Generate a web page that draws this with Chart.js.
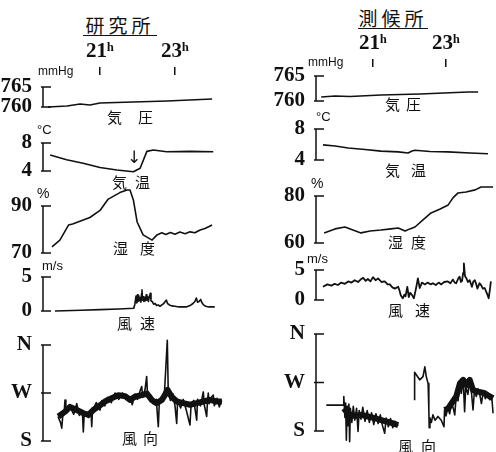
<!DOCTYPE html>
<html><head><meta charset="utf-8">
<script src="https://cdn.jsdelivr.net/npm/chart.js@4/dist/chart.umd.min.js"></script>
<style>
body{margin:0;background:#fff;}
#wrap{position:relative;width:496px;height:452px;overflow:hidden;background:#fff;}
#wrap canvas{position:absolute;}
.t{position:absolute;color:#111;line-height:1;white-space:nowrap;}
.cjk{font-family:"Noto Sans CJK JP";}
.unit{font-family:"Liberation Sans";font-size:12px;}
.ttl{font-family:"Noto Sans CJK JP";font-size:19px;border-bottom:1.5px solid #111;text-align:center;padding-bottom:1px;letter-spacing:4px;}
</style></head>
<body><div id="wrap"></div>
<script>
// ---------- DATA ----------
const hourTicks = [21, 23];
const pressureTicks = [760, 765];
const dirTicks = [180, 270, 360];
const dirNames = {180: 'S', 270: 'W', 360: 'N'};
const kenTempTicks = [4, 8];
const kenHumidTicks = [70, 90];
const sokTempTicks = [4, 8];
const sokHumidTicks = [60, 80];
const speedTicks = [0, 5];

// 研究所 (hours, value)
const kenPressure = [[19.61,760.0],[20.12,760.25],[20.47,760.75],[20.73,760.5],[21.0,761.0],[21.88,761.25],[22.79,761.5],[23.99,762.0]];
const kenTemp = [[19.67,6.3],[20.11,5.6],[20.55,5.1],[21.0,4.5],[21.45,4.15],[21.89,3.9],[22.07,4.4],[22.25,6.8],[22.42,7.0],[22.78,6.75],[23.4,6.8],[24.02,6.75]];
const kenHumid = [[19.72,72.6],[19.93,75.5],[20.16,81.9],[20.27,82.3],[20.73,85.1],[21.0,88.1],[21.21,92.8],[21.4,94.5],[21.53,95.7],[21.72,96.8],[21.8,96.8],[21.89,92.6],[21.99,83.2],[22.15,77.7],[22.39,75.5],[22.52,77.7],[22.65,78.6],[22.75,77.9],[22.88,78.7],[23.0,78.0],[23.13,78.9],[23.27,78.2],[23.4,79.0],[23.53,78.6],[23.67,79.8],[23.8,80.4],[23.99,81.9]];
const kenSpeed = [[19.8,0],[20.5,0.1],[21.0,0.2],[21.5,0.3],[21.9,0.4],[21.93,1.0],[21.96,2.2],[21.98,1.2],[22.0,2.4],[22.013,1.4],[22.03,2.3],[22.05,1.5],[22.07,2.0],[22.09,1.3],[22.11,2.6],[22.12,3.1],[22.135,1.6],[22.15,2.1],[22.17,1.4],[22.19,2.0],[22.21,1.5],[22.235,2.4],[22.25,1.6],[22.27,2.1],[22.29,1.4],[22.31,2.0],[22.342,2.6],[22.36,1.5],[22.39,1.4],[22.43,1.0],[22.47,1.1],[22.51,0.8],[22.55,0.9],[22.6,0.7],[22.65,0.9],[22.7,1.1],[22.74,1.4],[22.77,1.6],[22.8,1.1],[22.85,0.9],[22.92,0.75],[23.0,0.7],[23.1,0.6],[23.2,0.6],[23.3,0.6],[23.4,0.8],[23.48,1.1],[23.53,1.4],[23.57,1.9],[23.6,1.3],[23.64,1.4],[23.685,1.7],[23.72,1.2],[23.76,0.9],[23.82,0.7],[23.9,0.6],[24.06,0.6]];
const kenDirBand = [[19.89,226],[20.07,235],[20.2,244],[20.38,238],[20.56,232],[20.69,229],[20.82,238],[21.0,247],[21.13,254],[21.31,260],[21.49,266],[21.67,264],[21.8,257],[21.93,263],[22.11,266],[22.25,269],[22.38,257],[22.51,251],[22.65,257],[22.73,266],[22.8,276],[22.91,263],[23.05,254],[23.22,251],[23.4,248],[23.58,251],[23.76,254],[23.93,257],[24.11,254],[24.25,254]];
const kenDirTrace = [[19.88,226],[19.95,214],[19.98,204],[20.01,230],[20.05,240],[20.067,257],[20.09,236],[20.2,244],[20.3,230],[20.38,250],[20.45,228],[20.53,236],[20.555,197],[20.58,232],[20.7,224],[20.76,238],[20.779,207],[20.8,236],[20.9,252],[21.0,238],[21.05,256],[21.13,246],[21.2,262],[21.3,252],[21.4,270],[21.5,258],[21.6,270],[21.7,258],[21.8,262],[21.86,248],[21.93,268],[22.0,258],[22.08,276],[22.112,282],[22.14,262],[22.2,276],[22.245,301],[22.27,262],[22.35,266],[22.42,250],[22.5,258],[22.555,207],[22.58,250],[22.65,262],[22.72,272],[22.795,369],[22.82,272],[22.88,256],[22.95,268],[23.0,246],[23.045,213],[23.07,256],[23.15,242],[23.22,258],[23.3,238],[23.4,210],[23.43,250],[23.5,256],[23.579,219],[23.6,258],[23.68,246],[23.755,272],[23.78,248],[23.845,226],[23.87,258],[23.888,270],[23.91,250],[23.97,262],[24.021,266],[24.05,246],[24.12,260],[24.18,244],[24.245,256]];

// 測候所 (hours, value)
const sokPressure = [[19.58,760.8],[19.96,761.0],[20.37,760.9],[21.22,761.2],[22.29,761.4],[23.6,761.8],[23.88,761.8]];
const sokTemp = [[19.63,5.95],[19.96,5.8],[20.32,5.55],[20.78,5.35],[21.22,5.15],[21.69,5.05],[21.96,4.9],[22.07,5.15],[22.15,5.25],[22.56,5.1],[23.05,5.05],[23.66,4.9],[24.15,4.8]];
const sokHumid = [[19.66,64.3],[19.96,66.0],[20.23,66.8],[20.45,65.5],[20.67,64.3],[20.92,65.1],[21.22,65.5],[21.49,66.0],[21.69,66.4],[21.88,65.1],[22.01,66.0],[22.15,66.8],[22.37,69.8],[22.59,72.8],[22.84,74.5],[23.06,76.2],[23.19,79.2],[23.33,81.3],[23.55,81.7],[23.8,82.6],[23.96,83.8],[24.29,83.8]];
const sokSpeed = [[19.63,2.2],[19.75,2.6],[19.86,2.4],[19.95,2.7],[20.04,2.5],[20.13,2.9],[20.23,2.7],[20.32,3.1],[20.41,2.9],[20.5,3.3],[20.59,3.0],[20.66,3.4],[20.73,3.7],[20.8,3.2],[20.86,3.5],[20.93,3.1],[21.0,3.8],[21.07,3.3],[21.14,3.6],[21.23,3.0],[21.32,3.1],[21.4,2.6],[21.46,2.6],[21.53,2.1],[21.6,1.9],[21.69,2.2],[21.73,1.5],[21.76,0.8],[21.8,0.4],[21.82,0.3],[21.86,0.9],[21.89,0.6],[21.94,2.2],[21.98,0.5],[22.02,1.2],[22.05,1.0],[22.09,0.6],[22.12,0.3],[22.16,1.4],[22.19,2.3],[22.23,3.6],[22.28,2.0],[22.34,2.9],[22.42,2.6],[22.5,2.9],[22.58,2.6],[22.64,2.8],[22.72,2.5],[22.8,2.9],[22.87,2.6],[22.95,3.0],[23.05,3.1],[23.12,2.8],[23.19,3.4],[23.24,2.9],[23.28,2.8],[23.33,3.5],[23.37,3.9],[23.41,3.0],[23.44,3.2],[23.47,4.5],[23.49,6.1],[23.52,4.0],[23.56,3.6],[23.6,3.0],[23.65,3.3],[23.71,2.2],[23.75,3.1],[23.79,3.3],[23.83,2.6],[23.86,1.9],[23.92,2.8],[23.97,2.4],[24.01,1.9],[24.06,2.0],[24.1,1.4],[24.14,0.8],[24.17,0.3],[24.2,1.6],[24.23,3.1]];
const sokDirBand = [[20.2,222],[20.32,212],[20.5,208],[20.68,210],[20.86,207],[21.05,204],[21.23,200],[21.41,197],[21.55,194],[21.69,191],[22.0,null],[22.96,219],[23.06,222],[23.15,231],[23.28,244],[23.38,268],[23.47,275],[23.56,265],[23.65,275],[23.74,256],[23.88,253],[24.06,250],[24.2,244],[24.29,241]];
const sokDirTrace = [[19.72,228],[20.18,228],[20.2,244],[20.23,205],[20.25,232],[20.27,163],[20.29,226],[20.31,190],[20.34,230],[20.36,160],[20.38,222],[20.42,196],[20.46,226],[20.5,200],[20.55,222],[20.59,179],[20.62,218],[20.67,202],[20.72,224],[20.78,198],[20.84,218],[20.9,196],[20.96,214],[21.02,192],[21.08,212],[21.14,194],[21.2,210],[21.26,190],[21.32,176],[21.36,204],[21.42,188],[21.48,203],[21.54,186],[21.6,198],[21.69,190],[22.0,null],[22.14,237],[22.14,289],[22.19,284],[22.28,275],[22.37,281],[22.42,299],[22.46,281],[22.51,268],[22.53,219],[22.54,186],[22.56,204],[22.6,196],[22.64,210],[22.7,200],[22.78,207],[22.87,200],[22.945,188],[22.96,219],[23.0,208],[23.05,224],[23.1,212],[23.15,232],[23.2,222],[23.24,210],[23.28,246],[23.33,236],[23.38,270],[23.42,250],[23.47,278],[23.51,216],[23.54,262],[23.6,248],[23.65,278],[23.7,250],[23.74,219],[23.78,256],[23.83,244],[23.88,258],[23.93,246],[23.97,231],[24.02,252],[24.08,240],[24.14,250],[24.2,238],[24.25,246],[24.29,213]];

// ---------- LAYOUT ----------
const wrap = document.getElementById('wrap');
const INK = '#111';
const tickFont = {family: 'Liberation Serif', weight: 'bold', size: 21};

const bracket = {
  id: 'bracket',
  afterDraw(chart) {
    const ys = chart.scales.y, ctx = chart.ctx;
    const p = ys.ticks.map(t => ys.getPixelForValue(t.value));
    const x = chart.chartArea.left;
    ctx.save();
    ctx.strokeStyle = INK; ctx.lineWidth = 1.5;
    ctx.beginPath();
    ctx.moveTo(x, Math.min(...p)); ctx.lineTo(x, Math.max(...p));
    p.forEach(py => { ctx.moveTo(x - 2, py); ctx.lineTo(x + 8, py); });
    ctx.stroke();
    ctx.restore();
  }
};

function toXY(arr) { return arr.map(([x, y]) => ({x, y})); }
function line(arr, w) {
  return {data: toXY(arr), borderColor: INK, borderWidth: w, pointRadius: 0, tension: 0,
          fill: false, spanGaps: false, borderJoinStyle: 'round', borderCapStyle: 'butt'};
}

function panel(p) {
  const c = document.createElement('canvas');
  c.width = p.w; c.height = p.h;
  c.style.left = p.left + 'px'; c.style.top = p.top + 'px';
  wrap.appendChild(c);
  const axisH = p.top_axis ? 35 : 0;
  new Chart(c, {
    type: 'line',
    data: {datasets: p.datasets},
    plugins: [bracket],
    options: {
      responsive: false, animation: false, devicePixelRatio: 1,
      layout: {padding: 0},
      plugins: {legend: {display: false}, tooltip: {enabled: false}},
      scales: {
        x: {
          type: 'linear', min: p.xMin, max: p.xMax, display: !!p.top_axis, position: 'top',
          afterBuildTicks: s => { s.ticks = hourTicks.map(v => ({value: v})); },
          afterFit: s => { s.height = axisH; s.paddingLeft = 0; s.paddingRight = 0; s.paddingTop = 0; s.paddingBottom = 0; },
          ticks: {callback: v => v + 'ʰ', font: tickFont, color: INK, padding: 3, maxRotation: 0, autoSkip: false},
          grid: {display: true, drawOnChartArea: false, drawTicks: true, tickLength: 8, color: INK, lineWidth: 1.5},
          border: {display: false}
        },
        y: {
          type: 'linear', min: p.yMin, max: p.yMax,
          afterBuildTicks: s => { s.ticks = p.yTicks.map(v => ({value: v})); },
          afterFit: s => { s.width = p.axisW; s.paddingTop = 0; s.paddingBottom = 0; },
          ticks: {callback: p.yLabel || (v => String(v)), font: tickFont, color: INK, padding: 3, autoSkip: false},
          grid: {display: false},
          border: {display: false}
        }
      }
    }
  });
}

const L = {left: 0, w: 248, axisW: 43, xMin: 19.48, xMax: 24.947};
const R = {left: 248, w: 248, axisW: 68, xMin: 19.438, xMax: 24.37};
const dirLabel = v => dirNames[v] || '';

// 研究所 column
panel({...L, top: 40, h: 85, top_axis: true, yMin: 755.5, yMax: 768, yTicks: pressureTicks, datasets: [line(kenPressure, 1.6)]});
panel({...L, top: 125, h: 60, yMin: 2.0, yMax: 10.571, yTicks: kenTempTicks, datasets: [line(kenTemp, 1.6)]});
panel({...L, top: 185, h: 77, yMin: 66.17, yMax: 98.936, yTicks: kenHumidTicks, datasets: [line(kenHumid, 1.6)]});
panel({...L, top: 262, h: 68, yMin: -2.794, yMax: 7.206, yTicks: speedTicks, datasets: [line(kenSpeed, 1.6)]});
panel({...L, top: 330, h: 122, yMin: 159.375, yMax: 388.125, yTicks: dirTicks, yLabel: dirLabel, datasets: [line(kenDirBand, 6), line(kenDirTrace, 1.6)]});

// 測候所 column
panel({...R, top: 32, h: 86, top_axis: true, yMin: 756.6, yMax: 766.8, yTicks: pressureTicks, datasets: [line(sokPressure, 1.6)]});
panel({...R, top: 118, h: 57, yMin: 2.065, yMax: 9.419, yTicks: sokTempTicks, datasets: [line(sokTemp, 1.6)]});
panel({...R, top: 175, h: 80, yMin: 54.89, yMax: 88.936, yTicks: sokHumidTicks, datasets: [line(sokHumid, 1.6)]});
panel({...R, top: 255, h: 67, yMin: -3.667, yMax: 7.5, yTicks: speedTicks, datasets: [line(sokSpeed, 1.8)]});
panel({...R, top: 322, h: 130, yMin: 141.07, yMax: 382.26, yTicks: dirTicks, yLabel: dirLabel, datasets: [line(sokDirBand, 6), line(sokDirTrace, 1.6)]});

// ---------- TEXT ----------
function txt(s, x, y, cls, style) {
  const d = document.createElement('div');
  d.className = 't ' + cls; d.textContent = s;
  d.style.left = x + 'px'; d.style.top = y + 'px';
  if (style) Object.assign(d.style, style);
  wrap.appendChild(d);
}
function pair(a, xa, b, xb, y) {
  txt(a, xa, y, 'cjk', {fontSize: '15px'});
  txt(b, xb, y, 'cjk', {fontSize: '15px'});
}
// titles
txt('研究所', 83, 15, 'ttl', {width: '74px'});
txt('測候所', 358, 8, 'ttl', {width: '70px'});
// units
txt('mmHg', 38, 65, 'unit');
txt('°C', 37, 123, 'unit', {fontSize: '13px'});
txt('%', 37, 186, 'unit', {fontSize: '14px'});
txt('m/s', 42, 259, 'unit', {fontSize: '13px'});
txt('mmHg', 308, 56, 'unit');
txt('°C', 316, 110, 'unit', {fontSize: '13px'});
txt('%', 311, 176, 'unit', {fontSize: '14px'});
txt('m/s', 307, 252, 'unit', {fontSize: '13px'});
// panel names
pair('気', 107, '圧', 138, 109);
pair('気', 112, '温', 135, 174);
pair('湿', 113, '度', 140, 240);
pair('風', 117, '速', 140, 315);
pair('風', 122, '向', 143, 430);
pair('気', 385, '圧', 406, 96);
pair('気', 385, '温', 411, 162);
pair('湿', 388, '度', 411, 234);
pair('風', 388, '速', 415, 302);
pair('風', 398, '向', 421, 438);
// arrow marking the temperature jump
txt('↓', 127, 149, 'cjk', {fontSize: '17px', fontFamily: 'DejaVu Sans'});
</script>
</body></html>
